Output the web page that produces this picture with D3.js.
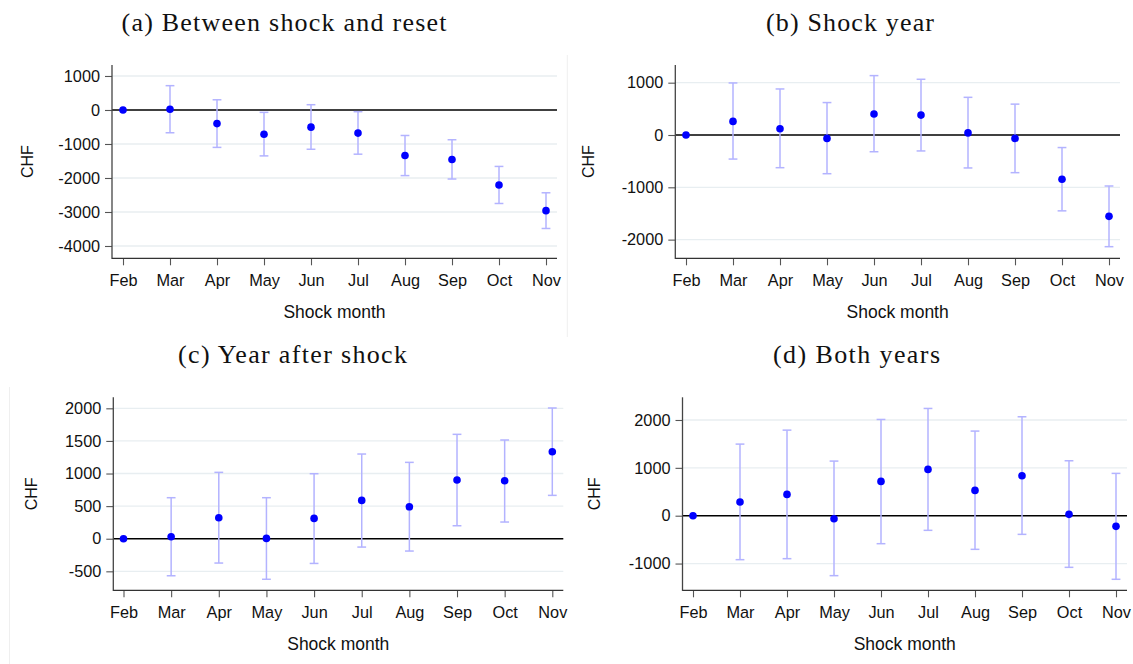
<!DOCTYPE html>
<html>
<head>
<meta charset="utf-8">
<script src="https://cdn.jsdelivr.net/npm/d3@7"></script>
<style>
  html, body { margin: 0; padding: 0; background: #fff; }
  svg { display: block; }
</style>
</head>
<body>
<svg id="chart" width="1133" height="664"></svg>
<script>
// Shock month categories shared by all four panels
const months = ["Feb", "Mar", "Apr", "May", "Jun", "Jul", "Aug", "Sep", "Oct", "Nov"];

// (a) Between shock and reset: point estimates and 95% bounds (CHF)
const estA = [0, 20, -400, -715, -505, -680, -1340, -1455, -2205, -2960];
const loA  = [null, -670, -1100, -1350, -1155, -1300, -1930, -2030, -2750, -3485];
const hiA  = [null, 715, 300, -70, 155, -50, -750, -875, -1660, -2435];
const ticksA = [1000, 0, -1000, -2000, -3000, -4000];
const rangeA = [-4362, 1323];

// (b) Shock year
const estB = [0, 260, 120, -65, 400, 380, 40, -65, -845, -1555];
const loB  = [null, -460, -625, -740, -320, -305, -630, -720, -1450, -2135];
const hiB  = [null, 995, 880, 620, 1135, 1065, 720, 590, -240, -975];
const ticksB = [1000, 0, -1000, -2000];
const rangeB = [-2357, 1338];

// (c) Year after shock
const estC = [0, 30, 322, 5, 312, 588, 490, 900, 890, 1335];
const loC  = [null, -568, -373, -622, -379, -128, -189, 199, 256, 665];
const hiC  = [null, 629, 1018, 629, 997, 1299, 1171, 1601, 1514, 2005];
const ticksC = [2000, 1500, 1000, 500, 0, -500];
const rangeC = [-791, 2169];

// (d) Both years
const estD = [0, 285, 445, -63, 717, 967, 529, 835, 28, -223];
const loD  = [null, -919, -898, -1253, -585, -306, -703, -390, -1079, -1329];
const hiD  = [null, 1496, 1788, 1141, 2011, 2241, 1768, 2067, 1148, 884];
const ticksD = [2000, 1000, 0, -1000];
const rangeD = [-1559, 2474];

const titles = ["(a) Between shock and reset", "(b) Shock year", "(c) Year after shock", "(d) Both years"];
const xTitle = "Shock month";
const yTitle = "CHF";

// Panel geometry
const panels = [
  { title: titles[0], est: estA, lo: loA, hi: hiA, ticks: ticksA, range: rangeA,
    x0: 112, x1: 557, y0: 65, y1: 258.3, first: 123, last: 546,
    tx: 284, ty: 31, tw: 325, yLabX: 27 },
  { title: titles[1], est: estB, lo: loB, hi: hiB, ticks: ticksB, range: rangeB,
    x0: 675.3, x1: 1120, y0: 65, y1: 258.3, first: 686, last: 1109,
    tx: 850, ty: 31, tw: 168, yLabX: 588 },
  { title: titles[2], est: estC, lo: loC, hi: hiC, ticks: ticksC, range: rangeC,
    x0: 113.3, x1: 563.3, y0: 397.3, y1: 590.3, first: 123.5, last: 552.3,
    tx: 292.5, ty: 363, tw: 229, yLabX: 31 },
  { title: titles[3], est: estD, lo: loD, hi: hiD, ticks: ticksD, range: rangeD,
    x0: 682.5, x1: 1127, y0: 397.3, y1: 590.3, first: 693, last: 1116,
    tx: 856.5, ty: 363, tw: 167, yLabX: 594 }
];

const svg = d3.select("#chart");
const sans = "'Liberation Sans', Arial, Helvetica, sans-serif";
const serif = "'Liberation Serif', 'Times New Roman', serif";

// faint edges of the sub-figure frames
svg.append("line").attr("x1", 567.3).attr("x2", 567.3).attr("y1", 55).attr("y2", 337)
  .attr("stroke", "#efefef").attr("stroke-width", 1);
svg.append("line").attr("x1", 9.5).attr("x2", 9.5).attr("y1", 387).attr("y2", 664)
  .attr("stroke", "#efefef").attr("stroke-width", 1);

panels.forEach(p => {
  const g = svg.append("g");
  const x = d3.scalePoint().domain(months).range([p.first, p.last]);
  const y = d3.scaleLinear().domain(p.range).range([p.y1, p.y0]);

  // sub-figure caption
  g.append("text")
    .attr("x", p.tx).attr("y", p.ty)
    .attr("text-anchor", "middle")
    .attr("font-family", serif).attr("font-size", 26)
    .attr("fill", "#111")
    .attr("textLength", p.tw).attr("lengthAdjust", "spacing")
    .text(p.title);

  // horizontal grid lines
  g.selectAll(".grid").data(p.ticks.filter(t => t !== 0)).join("line")
    .attr("x1", p.x0).attr("x2", p.x1)
    .attr("y1", d => y(d)).attr("y2", d => y(d))
    .attr("stroke", "#e8eef1").attr("stroke-width", 1.3);

  // reference line at zero
  g.append("line")
    .attr("x1", p.x0).attr("x2", p.x1)
    .attr("y1", y(0)).attr("y2", y(0))
    .attr("stroke", "#000").attr("stroke-width", 1.6);

  // y axis (plain hyphen for negative labels)
  const yAxis = d3.axisLeft(y).tickValues(p.ticks).tickSize(7).tickPadding(5).tickFormat(d => String(d));
  const ya = g.append("g").attr("transform", `translate(${p.x0},0)`).call(yAxis);
  // x axis
  const xAxis = d3.axisBottom(x).tickSize(7).tickPadding(6);
  const xa = g.append("g").attr("transform", `translate(0,${p.y1})`).call(xAxis);

  [ya, xa].forEach(a => {
    a.select(".domain").remove();
    a.selectAll(".tick line").attr("stroke", "#555").attr("stroke-width", 1.1);
    a.selectAll(".tick text").attr("font-family", sans).attr("font-size", 16.3).attr("fill", "#111");
  });
  xa.selectAll(".tick text").attr("dy", "0.92em");

  // axis lines
  g.append("line").attr("x1", p.x0).attr("x2", p.x0).attr("y1", p.y0).attr("y2", p.y1 + 0.6)
    .attr("stroke", "#444").attr("stroke-width", 1.3);
  g.append("line").attr("x1", p.x0).attr("x2", p.x1).attr("y1", p.y1).attr("y2", p.y1)
    .attr("stroke", "#333").attr("stroke-width", 1.3);

  // axis titles
  g.append("text")
    .attr("x", (p.x0 + p.x1) / 2).attr("y", p.y1 + 59.5)
    .attr("text-anchor", "middle")
    .attr("font-family", sans).attr("font-size", 17.5).attr("fill", "#111")
    .text(xTitle);
  g.append("text")
    .attr("transform", `translate(${p.yLabX + 6},${(p.y0 + p.y1) / 2}) rotate(-90)`)
    .attr("text-anchor", "middle")
    .attr("font-family", sans).attr("font-size", 16).attr("fill", "#111")
    .text(yTitle);

  // confidence intervals
  const rows = months.map((m, i) => ({ m, est: p.est[i], lo: p.lo[i], hi: p.hi[i] }));
  const ci = rows.filter(d => d.lo !== null);
  const barColor = "#b3b3ff";
  g.selectAll(".ci").data(ci).join("line")
    .attr("x1", d => x(d.m)).attr("x2", d => x(d.m))
    .attr("y1", d => y(d.lo)).attr("y2", d => y(d.hi))
    .attr("stroke", barColor).attr("stroke-width", 1.5);
  ["lo", "hi"].forEach(k => {
    g.selectAll(".cap-" + k).data(ci).join("line")
      .attr("x1", d => x(d.m) - 4.4).attr("x2", d => x(d.m) + 4.4)
      .attr("y1", d => y(d[k])).attr("y2", d => y(d[k]))
      .attr("stroke", barColor).attr("stroke-width", 1.5);
  });

  // point estimates
  g.selectAll(".pt").data(rows).join("circle")
    .attr("cx", d => x(d.m)).attr("cy", d => y(d.est))
    .attr("r", 3.8).attr("fill", "#0000ff");
});
</script>
</body>
</html>
